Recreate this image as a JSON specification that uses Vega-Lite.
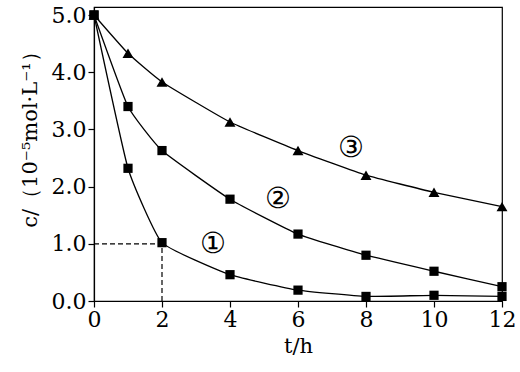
{
  "$schema": "https://vega.github.io/schema/vega-lite/v6.json",
  "width": 408,
  "height": 294,
  "autosize": {"type": "none"},
  "padding": {"left": 94, "top": 7, "right": 18, "bottom": 71},
  "background": "white",
  "config": {
    "view": {"stroke": "black", "strokeWidth": 1.2}
  },
  "datasets": {
    "series": [
      {"t": 0, "c": 5.0, "s": "1"}, {"t": 1, "c": 2.32, "s": "1"}, {"t": 2, "c": 1.02, "s": "1"}, {"t": 4, "c": 0.46, "s": "1"}, {"t": 6, "c": 0.19, "s": "1"}, {"t": 8, "c": 0.08, "s": "1"}, {"t": 10, "c": 0.1, "s": "1"}, {"t": 12, "c": 0.08, "s": "1"},
      {"t": 0, "c": 5.0, "s": "2"}, {"t": 1, "c": 3.4, "s": "2"}, {"t": 2, "c": 2.63, "s": "2"}, {"t": 4, "c": 1.78, "s": "2"}, {"t": 6, "c": 1.17, "s": "2"}, {"t": 8, "c": 0.8, "s": "2"}, {"t": 10, "c": 0.52, "s": "2"}, {"t": 12, "c": 0.25, "s": "2"},
      {"t": 0, "c": 5.0, "s": "3"}, {"t": 1, "c": 4.33, "s": "3"}, {"t": 2, "c": 3.83, "s": "3"}, {"t": 4, "c": 3.13, "s": "3"}, {"t": 6, "c": 2.63, "s": "3"}, {"t": 8, "c": 2.2, "s": "3"}, {"t": 10, "c": 1.9, "s": "3"}, {"t": 12, "c": 1.65, "s": "3"}
    ],
    "dash": [
      {"x1": 0, "x2": 2, "y1": 1.0, "y2": 1.0},
      {"x1": 2, "x2": 2, "y1": 0, "y2": 1.0}
    ],
    "labels": [
      {"t": 3.5, "c": 1.0, "label": "①"},
      {"t": 5.4, "c": 1.79, "label": "②"},
      {"t": 7.56, "c": 2.67, "label": "③"}
    ]
  },
  "layer": [
    {
      "data": {"name": "series"},
      "mark": {"type": "line", "interpolate": "cardinal", "tension": 0.6, "color": "black", "strokeWidth": 1.3},
      "encoding": {
        "x": {"field": "t", "type": "quantitative", "scale": {"domain": [0, 12], "nice": false},
          "axis": {"values": [0, 2, 4, 6, 8, 10, 12], "title": "t/h", "grid": false, "labelFlush": false, "labelOverlap": false, "domainColor": "black", "tickColor": "black", "labelColor": "black", "titleColor": "black", "labelFont": "DejaVu Serif", "titleFont": "DejaVu Serif", "labelFontSize": 22, "titleFontSize": 21, "titleFontWeight": "normal", "tickSize": 6, "domainWidth": 1.2, "tickWidth": 1.2, "labelPadding": 2, "titlePadding": 5}},
        "y": {"field": "c", "type": "quantitative", "scale": {"domain": [0, 5.14], "nice": false},
          "axis": {"values": [0, 1, 2, 3, 4, 5], "format": ".1f", "title": "c/（10⁻⁵mol·L⁻¹）", "grid": false, "labelFlush": false, "labelOverlap": false, "domainColor": "black", "tickColor": "black", "labelColor": "black", "titleColor": "black", "labelFont": "DejaVu Serif", "titleFont": "DejaVu Serif", "labelFontSize": 22, "titleFontSize": 21, "titleFontWeight": "normal", "tickSize": 6, "domainWidth": 1.2, "tickWidth": 1.2, "labelPadding": 2, "titleX": -64, "titleY": 127, "titleAlign": "center", "titleBaseline": "middle"}},
        "detail": {"field": "s"}
      }
    },
    {
      "data": {"name": "dash"},
      "mark": {"type": "rule", "strokeDash": [5, 3], "color": "black", "strokeWidth": 1.2},
      "encoding": {
        "x": {"field": "x1", "type": "quantitative"},
        "x2": {"field": "x2"},
        "y": {"field": "y1", "type": "quantitative"},
        "y2": {"field": "y2"}
      }
    },
    {
      "data": {"name": "series"},
      "transform": [{"filter": "datum.s != '3'"}],
      "mark": {"type": "point", "shape": "square", "filled": true, "color": "black", "size": 85, "opacity": 1},
      "encoding": {
        "x": {"field": "t", "type": "quantitative"},
        "y": {"field": "c", "type": "quantitative"}
      }
    },
    {
      "data": {"name": "series"},
      "transform": [{"filter": "datum.s == '3'"}],
      "mark": {"type": "point", "shape": "triangle-up", "filled": true, "color": "black", "size": 120, "opacity": 1},
      "encoding": {
        "x": {"field": "t", "type": "quantitative"},
        "y": {"field": "c", "type": "quantitative"}
      }
    },
    {
      "data": {"name": "labels"},
      "mark": {"type": "text", "font": "DejaVu Sans", "fontSize": 29, "fontWeight": 300, "color": "black"},
      "encoding": {
        "x": {"field": "t", "type": "quantitative"},
        "y": {"field": "c", "type": "quantitative"},
        "text": {"field": "label"}
      }
    }
  ]
}
